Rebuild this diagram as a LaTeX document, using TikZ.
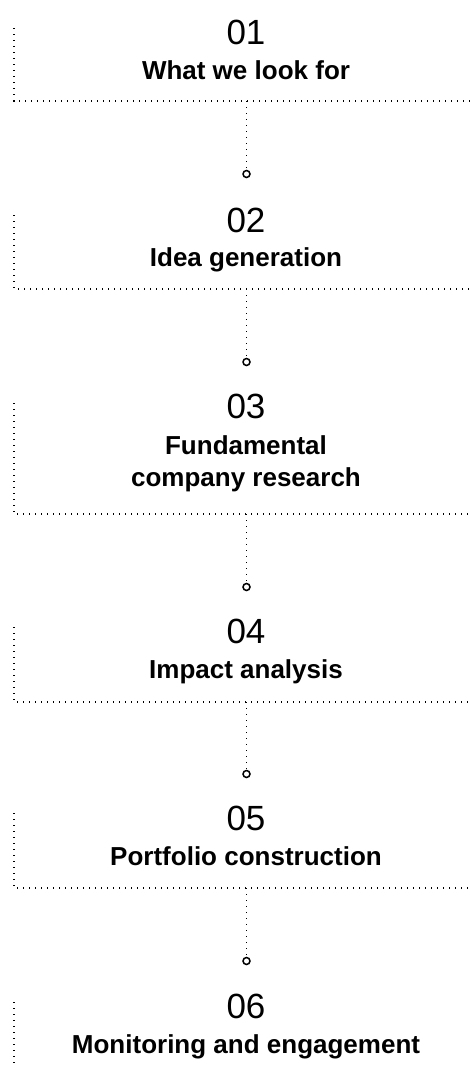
\documentclass[tikz,border=0pt]{standalone}
\usepackage{fontspec}
\setmainfont{Liberation Sans}
\begin{document}
\begin{tikzpicture}[x=1pt,y=-1pt,
  dots/.style={line width=1.4pt, dash pattern=on 1.4pt off 4.6pt},
  num/.style={anchor=base, inner sep=0pt, font=\fontsize{35}{40}\selectfont},
  ttl/.style={anchor=base, inner sep=0pt, font=\fontsize{26}{32}\selectfont\bfseries},
  ring/.style={circle, draw, line width=1.5pt, minimum size=7pt, inner sep=0pt}]
\useasboundingbox (0,0) rectangle (470,1068);

% Section 1
\node[num] (n1) at (246,44) {01};
\node[ttl] (t1) at (246,79) {What we look for};
\coordinate (v1) at (14,28);
\coordinate (e1) at (470,101);
\coordinate (m1) at (246.5,101);
\node[ring] (c1) at (246.5,174) {};
\draw[dots] (v1) |- (e1);
\draw[dots] (m1) -- (c1.north);

% Section 2
\node[num] (n2) at (246,232) {02};
\node[ttl] (t2) at (246,266) {Idea generation};
\coordinate (v2) at (14,215);
\coordinate (e2) at (470,289);
\coordinate (m2) at (246.5,289);
\node[ring] (c2) at (246.5,362) {};
\draw[dots] (v2) |- (e2);
\draw[dots] (m2) -- (c2.north);

% Section 3
\node[num] (n3) at (246,418) {03};
\node[ttl] (t3) at (246,454) {Fundamental};
\node[ttl] (t3b) at (246,486) {company research};
\coordinate (v3) at (14,403);
\coordinate (e3) at (470,514);
\coordinate (m3) at (246.5,514);
\node[ring] (c3) at (246.5,587) {};
\draw[dots] (v3) |- (e3);
\draw[dots] (m3) -- (c3.north);

% Section 4
\node[num] (n4) at (246,643) {04};
\node[ttl] (t4) at (246,678) {Impact analysis};
\coordinate (v4) at (14,627);
\coordinate (e4) at (470,702);
\coordinate (m4) at (246.5,702);
\node[ring] (c4) at (246.5,774) {};
\draw[dots] (v4) |- (e4);
\draw[dots] (m4) -- (c4.north);

% Section 5
\node[num] (n5) at (246,830) {05};
\node[ttl] (t5) at (246,865) {Portfolio construction};
\coordinate (v5) at (14,813);
\coordinate (e5) at (470,888);
\coordinate (m5) at (246.5,888);
\node[ring] (c5) at (246.5,961) {};
\draw[dots] (v5) |- (e5);
\draw[dots] (m5) -- (c5.north);

% Section 6
\node[num] (n6) at (246,1018) {06};
\node[ttl] (t6) at (246,1053) {Monitoring and engagement};
\coordinate (v6) at (14,1002);
\coordinate (b6) at (14,1068);
\draw[dots] (v6) -- (b6);
\end{tikzpicture}
\end{document}
